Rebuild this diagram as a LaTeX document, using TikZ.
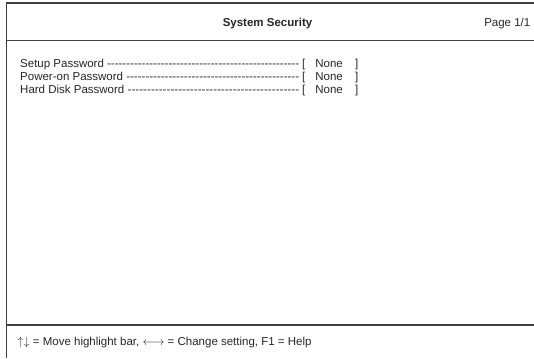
\documentclass[tikz,border=0pt]{standalone}
\usepackage{fontspec}
\setmainfont{Liberation Sans}
\begin{document}
\begin{tikzpicture}[x=1pt,y=-1pt,
    lbl/.style={anchor=base west,inner sep=0pt,text=black!85,
      font=\fontsize{11.5}{13}\selectfont},
    rule/.style={draw=black!75,line width=1.1pt}]
    \def\w{279}
    \useasboundingbox (0,0) rectangle (534,358);
    % screen frame
    \draw[rule] (6.5,358) -- (6.5,3) -- (534,3);
    \draw[rule] (6.5,40.5) -- (534,40.5);
    \draw[rule] (6.5,325) -- (534,325);
    % header
    \node (H0) at (267.5,26.5) [lbl,anchor=base,
      font={\fontsize{11.5}{13}\selectfont\bfseries}] {System Security};
    \node (H1) at (530.5,26.5) [lbl,anchor=base east] {Page 1/1};
    % items
    \node (R0_0) at (20,67.5) [lbl] {\hbox to \w pt{Setup Password \xleaders\hbox{-}\hfill}};
    \node (R1_0) at (20,80.5) [lbl] {\hbox to \w pt{Power-on Password \xleaders\hbox{-}\hfill}};
    \node (R2_0) at (20,93.5) [lbl] {\hbox to \w pt{Hard Disk Password \xleaders\hbox{-}\hfill}};
    \node (R0_1) at (302,67.5) [lbl] {\hbox to 56pt{[\hspace{10pt}None\hfill]}};
    \node (R1_1) at (302,80.5) [lbl] {\hbox to 56pt{[\hspace{10pt}None\hfill]}};
    \node (R2_1) at (302,93.5) [lbl] {\hbox to 56pt{[\hspace{10pt}None\hfill]}};
    % footer
    \node (F0) at (17.5,345.5) [lbl]
      {$\uparrow\downarrow$ = Move highlight bar, $\leftarrow\!\rightarrow$ = Change setting, F1 = Help};
\end{tikzpicture}
\end{document}
